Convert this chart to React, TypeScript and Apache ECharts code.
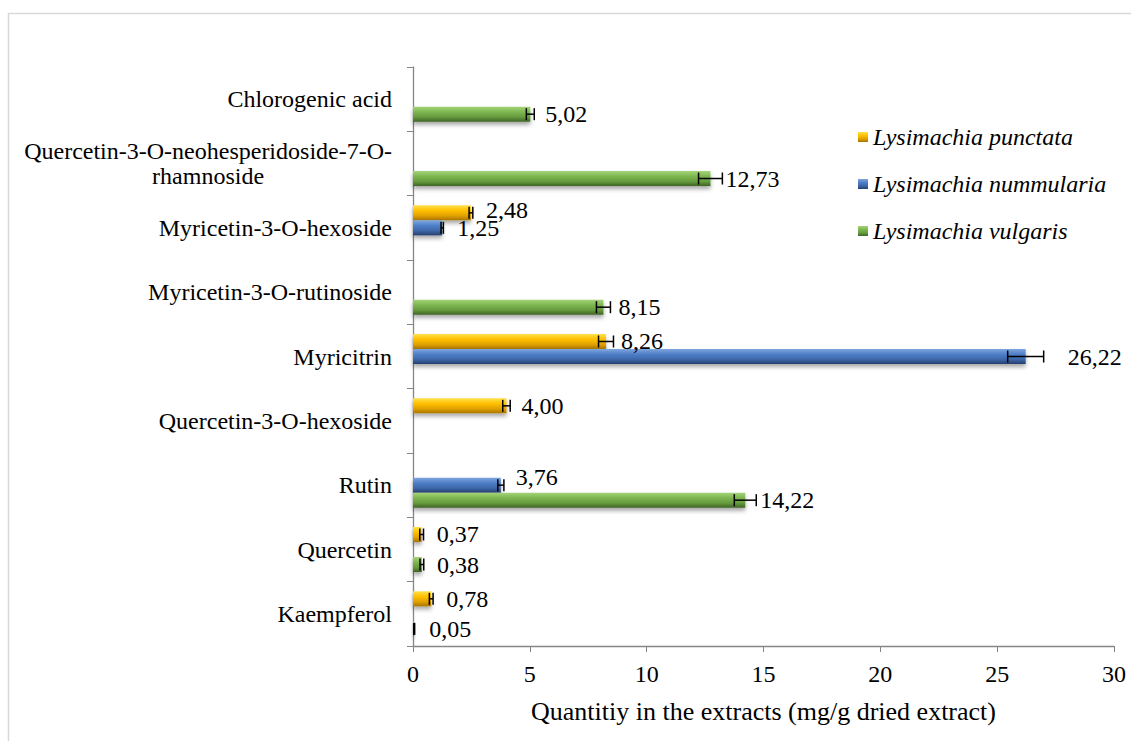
import React, { useEffect, useRef } from "react";
import * as echarts from "echarts";

const categories = [
  "Kaempferol",
  "Quercetin",
  "Rutin",
  "Quercetin-3-O-hexoside",
  "Myricitrin",
  "Myricetin-3-O-rutinoside",
  "Myricetin-3-O-hexoside",
  "Quercetin-3-O-neohesperidoside-7-O-rhamnoside",
  "Chlorogenic acid",
];

const seriesNames = ["Lysimachia punctata", "Lysimachia nummularia", "Lysimachia vulgaris"];

const punctata = [0.78, 0.37, null, 4.0, 8.26, null, 2.48, null, null];
const nummularia = [null, null, 3.76, null, 26.22, null, 1.25, null, null];
const vulgaris = [0.05, 0.38, 14.22, null, null, 8.15, null, 12.73, 5.02];

const punctataErr = [0.08, 0.08, null, 0.16, 0.32, null, 0.08, null, null];
const nummulariaErr = [null, null, 0.13, null, 0.77, null, 0.05, null, null];
const vulgarisErr = [0.02, 0.08, 0.47, null, null, 0.3, null, 0.51, 0.17];

const FONT = "'Liberation Serif', 'Times New Roman', serif";

const gradients = [
  ["#FFE14D", "#FFC000", "#E0A000", "#A87400"],
  ["#7FA6DE", "#4F7FC8", "#3D66A8", "#253F6E"],
  ["#A6D47A", "#7DB750", "#659A3E", "#3F6424"],
];

function grad(c: string[]) {
  return new echarts.graphic.LinearGradient(0, 0, 0, 1, [
    { offset: 0, color: c[0] },
    { offset: 0.35, color: c[1] },
    { offset: 0.7, color: c[2] },
    { offset: 1, color: c[3] },
  ]);
}

export default function App() {
  const ref = useRef<HTMLDivElement>(null);
  useEffect(() => {
    if (!ref.current) return;
    const chart = echarts.init(ref.current, null, { renderer: "svg" });
    const values = [punctata, nummularia, vulgaris];
    const errs = [punctataErr, nummulariaErr, vulgarisErr];

    const barSeries = values.map((arr, si) => ({
      type: "bar",
      name: seriesNames[si],
      barGap: "0%",
      barCategoryGap: "30%",
      itemStyle: {
        color: grad(gradients[si]),
        shadowBlur: 4,
        shadowColor: "rgba(0,0,0,0.35)",
        shadowOffsetY: 3,
      },
      label: {
        show: true,
        position: "right",
        distance: 15,
        fontFamily: FONT,
        fontSize: 24,
        color: "#000",
        formatter: (p: any) => (p.value == null ? "" : Number(p.value).toFixed(2).replace(".", ",")),
      },
      data: arr.map((v) => {
        if (v === 26.22) return { value: v, label: { distance: 42 } };
        if (v === 3.76) return { value: v, label: { offset: [0, -8] } };
        if (v === 2.48) return { value: v, label: { offset: [0, -3] } };
        return v;
      }),
    }));

    const errData: any[] = [];
    values.forEach((arr, si) => {
      arr.forEach((v, ci) => {
        if (v != null && errs[si][ci] != null) errData.push([v, ci, errs[si][ci], si]);
      });
    });

    const longLabel = categories[7];

    chart.setOption({
      animation: false,
      grid: { left: 413, right: 17, top: 67, bottom: 95, outerBoundsMode: "none", containLabel: false },
      legend: {
        orient: "vertical",
        left: 853,
        top: 120,
        itemGap: 23,
        icon: "rect",
        itemWidth: 10,
        itemHeight: 10,
        data: seriesNames,
        textStyle: { fontFamily: FONT, fontSize: 24, fontStyle: "italic", color: "#000" },
      },
      graphic: [
        {
          type: "rect",
          silent: true,
          z: -10,
          shape: { x: 8.5, y: 13.5, width: 1300, height: 900 },
          style: { fill: "none", stroke: "#d9d9d9", lineWidth: 1.5 },
        },
      ],
      xAxis: {
        type: "value",
        min: 0,
        max: 30,
        interval: 5,
        name: "Quantitiy in the extracts (mg/g dried extract)",
        nameLocation: "middle",
        nameGap: 52,
        nameTextStyle: { fontFamily: FONT, fontSize: 26, color: "#000" },
        axisLine: { show: true, lineStyle: { color: "#868686", width: 1.3 } },
        axisTick: { show: true, length: 6, lineStyle: { color: "#868686" } },
        axisLabel: { fontFamily: FONT, fontSize: 24, color: "#000", margin: 16 },
        splitLine: { show: false },
      },
      yAxis: {
        type: "category",
        data: categories,
        axisLine: { show: true, lineStyle: { color: "#868686", width: 1.3 } },
        axisTick: { show: true, length: 6, lineStyle: { color: "#868686" } },
        axisLabel: {
          fontFamily: FONT,
          fontSize: 24,
          color: "#000",
          margin: 21,
          interval: 0,
          formatter: (v: string) =>
            v === longLabel ? "{c|Quercetin-3-O-neohesperidoside-7-O-}\n{c|rhamnoside}" : v,
          rich: {
            c: { align: "center", fontFamily: FONT, fontSize: 24, color: "#000", lineHeight: 25 },
          },
        },
      },
      series: [
        ...barSeries,
        {
          type: "custom",
          name: "err",
          z: 5,
          encode: { x: 0, y: 1 },
          renderItem: (params: any, api: any) => {
            const v = api.value(0);
            const ci = api.value(1);
            const e = api.value(2);
            const si = api.value(3);
            const p = api.coord([v, ci]);
            const band = api.size([0, 1])[1];
            const bw = (band * 0.7) / 3;
            const y = p[1] - 1.5 * bw + bw * (si + 0.5);
            const x1 = api.coord([v - e, ci])[0];
            const x2 = api.coord([v + e, ci])[0];
            const h = bw * 0.4;
            const st = { stroke: "#000", lineWidth: 1.5 };
            return {
              type: "group",
              children: [
                { type: "line", shape: { x1, y1: y, x2, y2: y }, style: st },
                { type: "line", shape: { x1, y1: y - h, x2: x1, y2: y + h }, style: st },
                { type: "line", shape: { x1: x2, y1: y - h, x2, y2: y + h }, style: st },
              ],
            };
          },
          data: errData,
        },
      ],
    });
    return () => chart.dispose();
  }, []);
  return (
    <div
      ref={ref}
      style={{ position: "fixed", left: 0, top: 0, width: 1131, height: 741, background: "#fff" }}
    />
  );
}
